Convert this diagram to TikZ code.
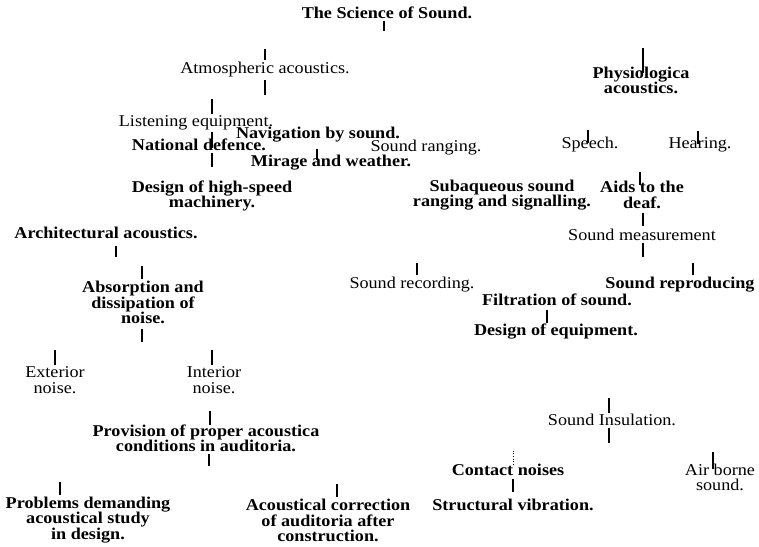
\documentclass[tikz,border=0pt]{standalone}
\usepackage{fontspec}
\setmainfont[FakeStretch=1.1]{Liberation Serif}
\usetikzlibrary{positioning}

\newcommand{\chartsize}{\fontsize{16.5}{15.5}\selectfont}

\begin{document}
\begin{tikzpicture}[
  x=1pt, y=1pt,
  topic/.style={align=center, inner sep=2pt, font=\chartsize\bfseries},
  faded/.style={topic, font=\chartsize\mdseries},
  stem/.style={line width=1.2pt},
]
\useasboundingbox[fill=white] (0,0) rectangle (759,546);

% root and the two upper branches
\node[topic] (sci) at (387, 533) {The Science of Sound.};
\node[faded] (atmo) at (265, 476) {Atmospheric acoustics.};
\node[topic] (physio) at (641, 465.5) {Physiologica\\acoustics.};

% atmospheric side
\node[faded] (listen) at (196, 423) {Listening equipment.};
\node[topic] (navig) at (318, 411.5) {Navigation by sound.};
\node[topic] (natdef) at (199, 401) {National defence.};
\node[faded] (ranging) at (426, 398.5) {Sound ranging.};
\node[topic] (mirage) at (331, 383) {Mirage and weather.};
\node[topic] (machine) at (212, 350) {Design of high-speed\\machinery.};
\node[topic] (subaq) at (502, 351) {Subaqueous sound\\ranging and signalling.};

% physiological side
\node[faded] (speech) at (590, 401) {Speech.};
\node[faded] (hearing) at (700, 401) {Hearing.};
\node[topic] (aids) at (642, 351) {Aids to the\\deaf.};
\node[faded] (measure) at (642, 311) {Sound measurement};
\node[faded] (recording) at (412, 261) {Sound recording.};
\node[topic] (reproduce) at (680, 261) {Sound reproducing};
\node[topic] (filtration) at (557, 246) {Filtration of sound.};
\node[topic] (equip) at (556, 214) {Design of equipment.};

% architectural side
\node[topic] (archi) at (106, 313) {Architectural acoustics.};
\node[topic] (absorb) at (143, 243.5) {Absorption and\\dissipation of\\noise.};
\node[faded] (exterior) at (55, 166) {Exterior\\noise.};
\node[faded] (interior) at (214, 166) {Interior\\noise.};
\node[topic] (provision) at (206, 107.5) {Provision of proper acoustica\\conditions in auditoria.};
\node[topic] (problems) at (88, 26) {Problems demanding\\acoustical study\\in design.};
\node[topic] (correction) at (328, 25.5) {Acoustical correction\\of auditoria after\\construction.};

% insulation
\node[faded] (insul) at (612, 126) {Sound Insulation.};
\node[topic] (contact) at (508, 76) {Contact noises};
\node[faded] (airborne) at (720, 68.5) {Air borne\\sound.};
\node[topic] (structural) at (513, 41) {Structural vibration.};

% short stems left of the lost rules
\draw[stem] ([xshift=-3]sci.south) -- +(0,-10);
\draw[stem] ([yshift=0.5]atmo.north) -- +(0,11);
\draw[stem] ([yshift=-0.5]atmo.south) -- +(0,-15);
\draw[stem] ([xshift=2,yshift=-8]physio.north) -- +(0,25);
\draw[stem] ([xshift=16,yshift=-0.5]listen.north) -- +(0,15);
\draw[stem] ([xshift=16,yshift=0.5]listen.south) -- +(0,-16);
\draw[stem] ([xshift=13,yshift=0.5]natdef.south) -- +(0,-14);
\draw[stem] ([xshift=-14,yshift=-7]mirage.north) -- +(0,11);
\draw[stem] ([xshift=-2,yshift=-8]speech.north) -- +(0,13);
\draw[stem] ([xshift=-2,yshift=-8]hearing.north) -- +(0,13);
\draw[stem] ([xshift=-2,yshift=-6]aids.north) -- +(0,13);
\draw[stem] ([xshift=1,yshift=-2]aids.south) -- +(0,-13);
\draw[stem] ([xshift=1,yshift=0.5]measure.south) -- +(0,-14);
\draw[stem] ([xshift=5]recording.north) -- +(0,12);
\draw[stem] ([xshift=13]reproduce.north) -- +(0,12);
\draw[stem] ([xshift=-10,yshift=-1.5]filtration.south) -- +(0,-13);
\draw[stem] ([xshift=10,yshift=-4.5]archi.south) -- +(0,-11);
\draw[stem] ([xshift=-1,yshift=-0.5]absorb.north) -- +(0,13);
\draw[stem] ([xshift=-1,yshift=-2.5]absorb.south) -- +(0,-13);
\draw[stem] ([yshift=-0.5]exterior.north) -- +(0,15);
\draw[stem] ([xshift=-2,yshift=-0.5]interior.north) -- +(0,15);
\draw[stem] ([xshift=4,yshift=-2.5]provision.north) -- +(0,14);
\draw[stem] ([xshift=3,yshift=0.5]provision.south) -- +(0,-12);
\draw[stem] ([xshift=-28]problems.north) -- +(0,13);
\draw[stem] ([xshift=9]correction.north) -- +(0,13);
\draw[stem] ([xshift=-3,yshift=-1.5]insul.north) -- +(0,15);
\draw[stem] ([xshift=-3,yshift=0.5]insul.south) -- +(0,-15);
\draw[stem, line width=.6pt, dotted] ([xshift=5,yshift=-2.5]contact.north) -- +(0,15);
\draw[stem] ([xshift=5,yshift=-0.5]contact.south) -- +(0,-13);
\draw[stem] ([xshift=-7,yshift=-7]airborne.north) -- +(0,17);
\end{tikzpicture}
\end{document}
